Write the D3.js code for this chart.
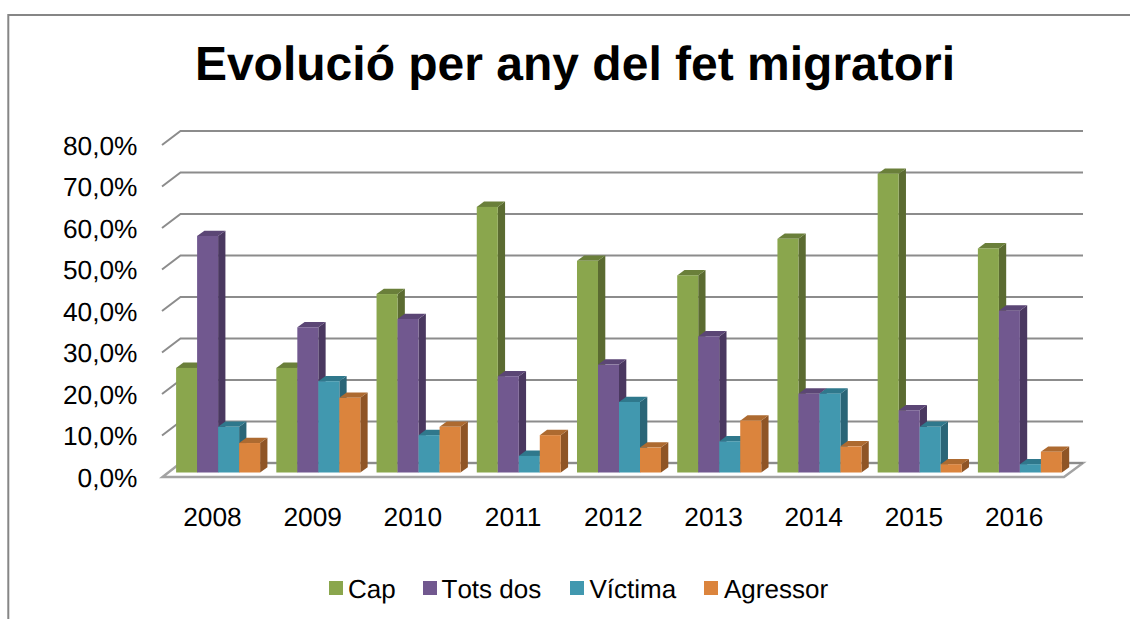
<!DOCTYPE html>
<html><head><meta charset="utf-8">
<script src="https://cdnjs.cloudflare.com/ajax/libs/d3/7.8.5/d3.min.js"></script>
<style>html,body{margin:0;padding:0;background:#fff;overflow:hidden}svg{display:block}text{font-family:"Liberation Sans",Arial,sans-serif;fill:#000;text-rendering:geometricPrecision}.leg text{font-kerning:none}</style>
</head><body><svg id="c" width="1130" height="619"></svg>
<script>
const title = "Evolució per any del fet migratori";
const years = ["2008","2009","2010","2011","2012","2013","2014","2015","2016"];
const seriesNames = ["Cap","Tots dos","Víctima","Agressor"];
const cap      = [25.2,25.2,43,64,51,47.5,56.3,72,54];
const totsDos  = [57,35,37,23.2,26,32.8,19,15,39];
const victima  = [11,22,9,4,17,7.5,19,11,2];
const agressor = [7.1,18,11,9,6,12.5,6.3,2,5];
const seriesValues = [cap,totsDos,victima,agressor];
const yTicks = [0,10,20,30,40,50,60,70,80];
const colors = ["#8aa64d","#71588f","#4198af","#db843d"];
const sideColors = ["#5b6b31","#4a3860","#2a6577","#8f5526"];
const topColors = ["#6a7f3a","#5b4675","#2f788c","#ad6a30"];

const svg = d3.select("#c");
// frame
svg.append("path").attr("d","M8.3,619V15H1130").attr("fill","none").attr("stroke","#868686").attr("stroke-width",2);
svg.append("text").attr("x",575).attr("y",80).attr("text-anchor","middle")
  .attr("font-size",48).attr("font-weight","bold").text(title);

const y = d3.scaleLinear().domain([0,80]).range([472.5,140.5]);      // bar face plane
const xFront = d3.scaleBand().domain(years).range([162,1064]).paddingInner(0.1617).paddingOuter(0.0808);
const xBars = d3.scaleBand().domain(years).range([168,1070]).paddingInner(0.1617).paddingOuter(0.0808);
const xSeries = d3.scaleBand().domain(seriesNames).range([0,xBars.bandwidth()]);
const wallDx = 18.5, frontDy = 4.5, wallDy = 14;

// gridlines (wall)
const grid = svg.append("g").attr("fill","none").attr("stroke","#8c8c8c").attr("stroke-width",2);
yTicks.forEach(v=>{
  if(v===0) return;
  const yf = y(v)+frontDy, yb = yf-wallDy;
  grid.append("path").attr("d",`M162,${yf}L${162+wallDx},${yb}H1083`);
});
// floor
const y0f = y(0)+frontDy, y0b = y0f-wallDy;
svg.append("path").attr("d",`M162.5,${y0f}L${162+wallDx},${y0b}H1083L1064,${y0f}Z`)
  .attr("fill","#fff").attr("stroke","#a3a3a3").attr("stroke-width",2.4);
svg.append("path").attr("d",`M${162+wallDx},${y0b}H1083`).attr("fill","none").attr("stroke","#8c8c8c").attr("stroke-width",2);

// bars
const dx = 7.3, dy = 5.3;
years.forEach((yr,i)=>{
  seriesNames.forEach((s,j)=>{
    const x0 = xBars(yr)+xSeries(s), w = xSeries.bandwidth();
    const top = y(seriesValues[j][i]), base = y(0);
    const g = svg.append("g");
    g.append("path").attr("d",`M${x0+w},${top}l${dx},${-dy}V${base-dy}l${-dx},${dy}Z`).attr("fill",sideColors[j]);
    g.append("path").attr("d",`M${x0},${top}l${dx},${-dy}h${w}l${-dx},${dy}Z`).attr("fill",topColors[j]);
    g.append("rect").attr("x",x0).attr("y",top).attr("width",w).attr("height",base-top).attr("fill",colors[j]);
  });
});

// axes
const yAxis = svg.append("g").attr("transform","translate(137.5,0)")
  .call(d3.axisLeft(d3.scaleLinear().domain([0,80]).range([y(0)+5.5,y(80)+5.5])).tickValues(yTicks).tickSize(0).tickPadding(0)
  .tickFormat(v=>d3.format(".1f")(v).replace(".",",")+"%"));
yAxis.select(".domain").remove();
yAxis.attr("font-family",null);
yAxis.selectAll("text").attr("font-size",26.3).attr("fill","#000");
const xAxis = svg.append("g").attr("transform","translate(0.3,507)")
  .call(d3.axisBottom(xFront).tickSize(0).tickPadding(0));
xAxis.select(".domain").remove();
xAxis.attr("font-family",null);
xAxis.selectAll("text").attr("font-size",26.3).attr("fill","#000");

// legend
const legendSwatchX = [329,423,570,704];
const legendTextX = [348,441.5,589.5,724];
const leg = svg.append("g").attr("class","leg");
seriesNames.forEach((s,j)=>{
  leg.append("rect").attr("x",legendSwatchX[j]).attr("y",581).attr("width",14).attr("height",14).attr("fill",colors[j]);
  leg.append("text").attr("x",legendTextX[j]).attr("y",597.5).attr("font-size",26).text(s);
});
</script></body></html>
